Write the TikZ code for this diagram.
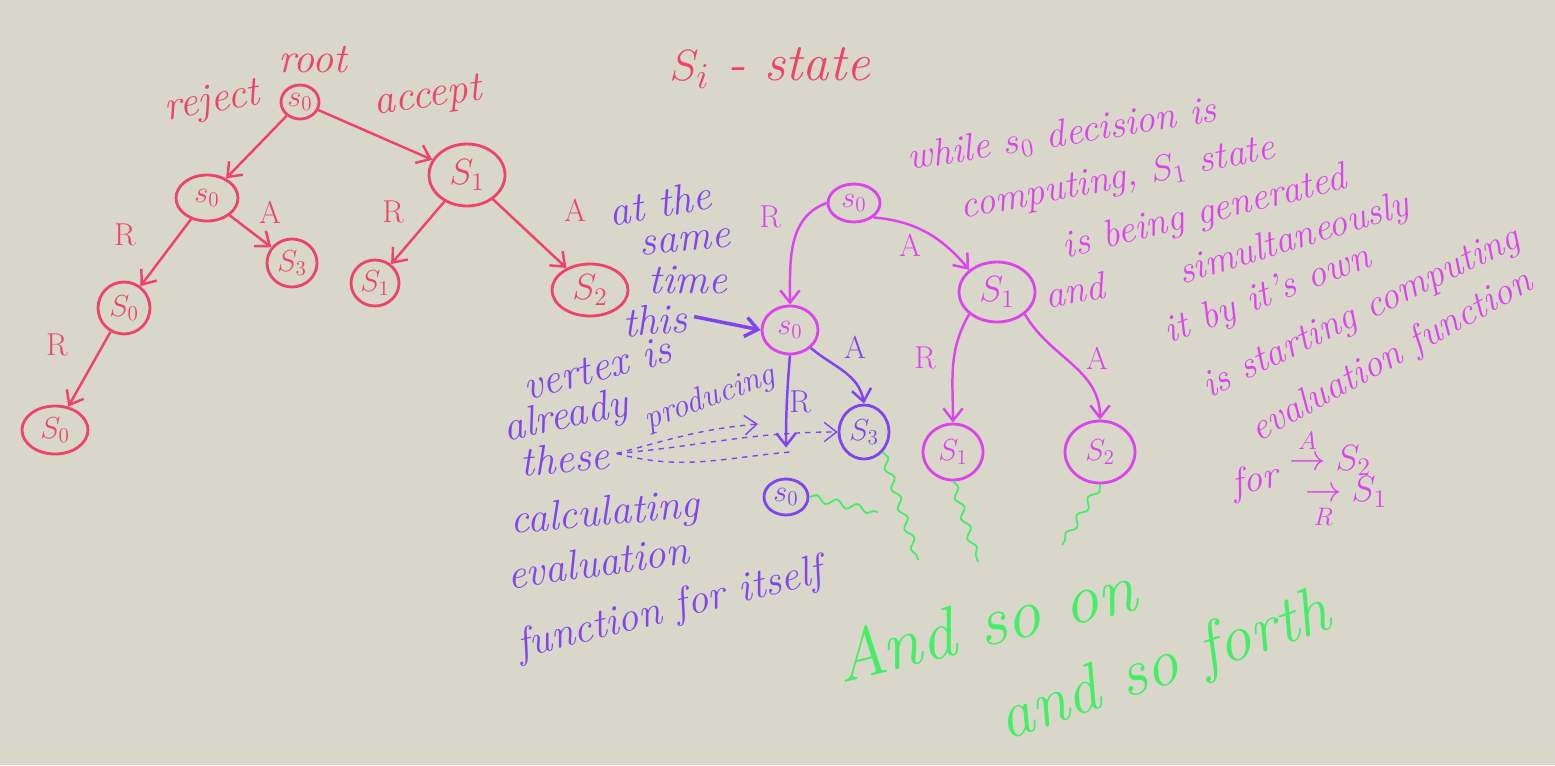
\documentclass[tikz,border=0pt]{standalone}
\usepackage{amsmath}
\usepackage{tikz}
\usetikzlibrary{shapes.geometric,arrows.meta,decorations.pathmorphing}
\definecolor{paper}{HTML}{D9D7CA}
\definecolor{penred}{HTML}{EE4468}
\definecolor{penmag}{HTML}{DD44EE}
\definecolor{penviolet}{HTML}{8045EE}
\definecolor{pengreen}{HTML}{44EE66}
\tikzset{
  st/.style={ellipse,draw,line width=1.6pt,inner sep=0pt,font=\fontsize{17}{19}\selectfont},
  lbl/.style={font=\fontsize{18}{20}\selectfont},
  hand/.style={font=\fontsize{24}{26}\selectfont\itshape},
  note/.style={font=\fontsize{22}{24}\selectfont\itshape},
  squig/.style={pengreen,line width=1pt,decorate,decoration={snake,amplitude=2pt,segment length=12pt}}
}
\begin{document}
\begin{tikzpicture}[x=0.02cm,y=-0.02cm,line width=1.4pt,>={Straight Barb[length=7pt,width=11pt]}]
	\fill[paper] (0,0) rectangle (1555,765);
	\useasboundingbox (0,0) rectangle (1555,765);
	% red tree
	\begin{scope}[penred]
		\node[st,minimum width=0.76cm,minimum height=0.68cm] (r0) at (300,102) {$s_0$};
		\node[st,minimum width=1.24cm,minimum height=0.92cm] (ra) at (207,198) {$s_0$};
		\node[st,minimum width=1.52cm,minimum height=1.24cm,font=\fontsize{21}{23}\selectfont] (rb) at (467,175) {$S_1$};
		\node[st,minimum width=1.0cm,minimum height=0.96cm] (rc) at (292,263) {$S_3$};
		\node[st,minimum width=0.96cm,minimum height=0.92cm] (rd) at (375,283) {$S_1$};
		\node[st,minimum width=1.52cm,minimum height=1.04cm,font=\fontsize{21}{23}\selectfont] (re) at (590,290) {$S_2$};
		\node[st,minimum width=1.04cm,minimum height=1.04cm] (rf) at (124,308) {$S_0$};
		\node[st,minimum width=1.32cm,minimum height=0.96cm] (rg) at (55,430) {$S_0$};
		\draw[->] (r0) -- (ra);
		\draw[->] (r0) -- (rb);
		\draw[->] (ra) -- (rf);
		\draw[->] (ra) -- (rc);
		\draw[->] (rb) -- (rd);
		\draw[->] (rb) -- (re);
		\draw[->] (rf) -- (rg);
		\node[hand] (root) at (313,60) {root};
		\node[hand,rotate=10] (reject) at (212,103) {reject};
		\node[hand,rotate=8] (accept) at (428,98) {accept};
		\node[lbl] (l1) at (125,235) {R};
		\node[lbl] (l2) at (270,212) {A};
		\node[lbl] (l3) at (393,212) {R};
		\node[lbl] (l4) at (575,210) {A};
		\node[lbl] (l5) at (57,345) {R};
		\node[hand,font=\fontsize{30}{32}\selectfont\itshape] (legend) at (770,68) {$S_i$ - state};
	\end{scope}
	% magenta tree
	\begin{scope}[penmag]
		\node[st,minimum width=1.04cm,minimum height=0.76cm] (ma) at (854,203) {$s_0$};
		\node[st,minimum width=1.12cm,minimum height=0.96cm] (mb) at (790,330) {$s_0$};
		\node[st,minimum width=1.52cm,minimum height=1.2cm,font=\fontsize{20}{22}\selectfont] (mc) at (997,292) {$S_1$};
		\node[st,minimum width=1.2cm,minimum height=1.12cm] (md) at (953,452) {$S_1$};
		\node[st,minimum width=1.4cm,minimum height=1.24cm] (me) at (1100,452) {$S_2$};
		\draw[->] (ma.west) to[out=200,in=90] (mb.north);
		\draw[->] (ma.south east) to[out=-5,in=130] (mc.north west);
		\draw[->] (mc.south west) to[out=240,in=90] (md.north);
		\draw[->] (mc.south east) to[out=-60,in=90] (me.north);
		\node[lbl] (m1) at (770,217) {R};
		\node[lbl] (m2) at (910,245) {A};
		\node[lbl] (m3) at (925,358) {R};
		\node[lbl] (m4) at (1097,358) {A};
		\node[note,rotate=9] (t1) at (1062,135) {while $s_0$ decision is};
		\node[note,rotate=11] (t2) at (1118,180) {computing, $S_1$ state};
		\node[note,rotate=14] (t3) at (1205,214) {is being generated};
		\node[note,rotate=17] (t4) at (1294,240) {simultaneously};
		\node[note,rotate=10] (t5) at (1075,290) {and};
		\node[note,rotate=21] (t6) at (1268,296) {it by it's own};
		\node[note,rotate=26] (t7) at (1362,314) {is starting computing};
		\node[note,rotate=29] (t8) at (1392,357) {evaluation function};
		\node[note,rotate=12] (t9) at (1255,482) {for};
		\node[note] (t10) at (1330,452) {$\overset{A}{\rightarrow}S_2$};
		\node[note] (t11) at (1346,503) {$\underset{R}{\rightarrow}S_1$};
	\end{scope}
	% violet part
	\begin{scope}[penviolet]
		\node[st,minimum width=1.0cm,minimum height=1.08cm] (pa) at (864,432) {$S_3$};
		\node[st,minimum width=0.88cm,minimum height=0.72cm] (pb) at (786,497) {$s_0$};
		\draw[->] (mb.south east) to[out=-40,in=100] (pa.north);
		\draw[->,shorten >=0.6cm] (mb.south) to[out=-95,in=90] (pb.north);
		\node[lbl] (p1) at (855,347) {A};
		\node[lbl] (p2) at (800,402) {R};
		\node[hand,rotate=10] (w1) at (660,203) {at the};
		\node[hand,rotate=5] (w2) at (685,242) {same};
		\node[hand] (w3) at (688,280) {time};
		\node[hand,rotate=5] (w4) at (655,320) {this};
		\node[hand,rotate=15] (w5) at (597,368) {vertex is};
		\node[hand,rotate=12] (w6) at (566,418) {already};
		\node[hand,rotate=20,font=\fontsize{19}{21}\selectfont\itshape] (w7) at (710,398) {producing};
		\node[hand,rotate=5] (w8) at (565,458) {these};
		\node[hand,rotate=5] (w9) at (605,515) {calculating};
		\node[hand,rotate=8] (w10) at (598,562) {evaluation};
		\node[hand,rotate=14] (w11) at (670,610) {function for itself};
		\coordinate (d1) at (758,424);
		\coordinate (d3) at (790,452);
		\draw[->,line width=2pt] (w4.east) -- (mb.west);
		\draw[->,dashed,line width=0.8pt] (w8.east) to[out=15,in=185] (d1);
		\draw[->,dashed,line width=0.8pt] (w8.east) to[out=5,in=180] (pa.west);
		\draw[dashed,line width=0.8pt] (w8.east) to[out=-15,in=185] (d3);
	\end{scope}
	% green squiggles and text
	\coordinate (g1) at (878,512);
	\coordinate (g2) at (918,560);
	\coordinate (g3) at (978,562);
	\coordinate (g4) at (1062,545);
	\draw[squig] (pb.east) -- (g1);
	\draw[squig] (pa.south east) -- (g2);
	\draw[squig] (md.south) -- (g3);
	\draw[squig] (me.south) -- (g4);
	\node[pengreen,font=\fontsize{40}{42}\selectfont\itshape,rotate=14] (so1) at (985,622) {And so on};
	\node[pengreen,font=\fontsize{38}{40}\selectfont\itshape,rotate=19] (so2) at (1165,668) {and so forth};
\end{tikzpicture}
\end{document}
